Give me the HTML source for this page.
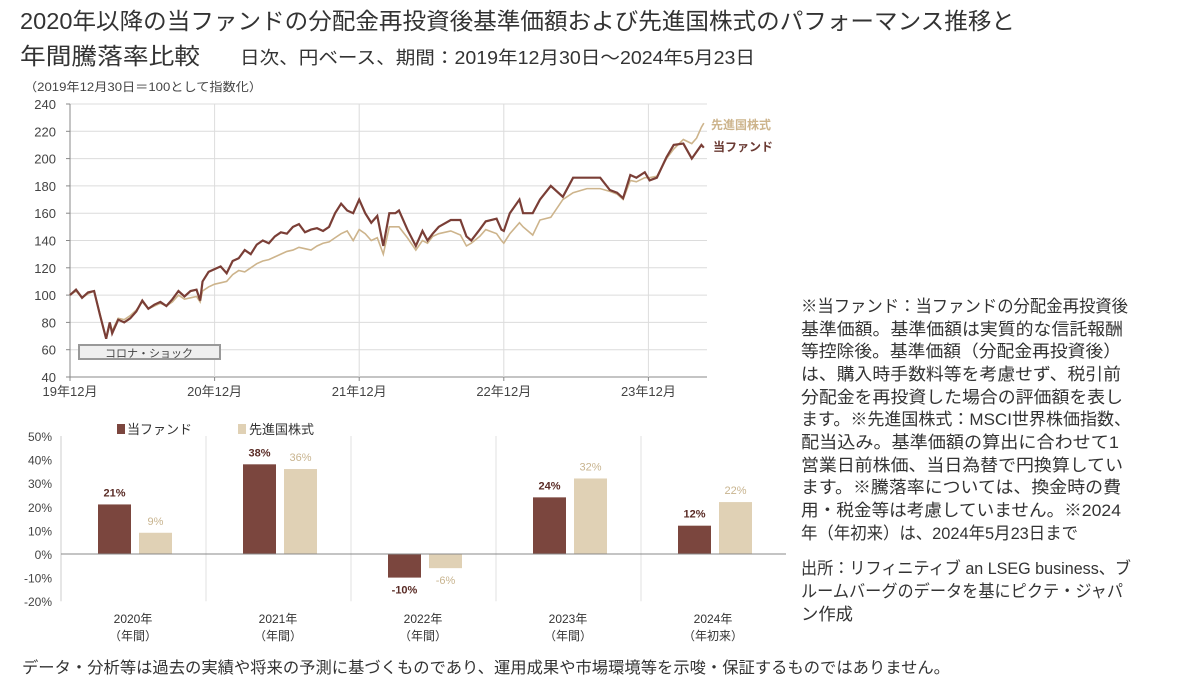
<!DOCTYPE html>
<html lang="ja"><head><meta charset="utf-8">
<style>
html,body{margin:0;padding:0;background:#fff;}
svg{display:block;font-family:"Liberation Sans","Noto Sans CJK JP",sans-serif;}
</style></head>
<body>
<svg id="root" width="1187" height="687" viewBox="0 0 1187 687">
<text x="20" y="29" font-size="23" fill="#333" textLength="995" lengthAdjust="spacingAndGlyphs">2020年以降の当ファンドの分配金再投資後基準価額および先進国株式のパフォーマンス推移と</text>
<text x="20" y="64" font-size="23" fill="#333" textLength="180" lengthAdjust="spacingAndGlyphs">年間騰落率比較</text>
<text x="240" y="64" font-size="18" fill="#333" textLength="515" lengthAdjust="spacingAndGlyphs">日次、円ベース、期間：2019年12月30日～2024年5月23日</text>
<text x="24" y="91" font-size="12" fill="#444" textLength="238" lengthAdjust="spacingAndGlyphs">（2019年12月30日＝100として指数化）</text>
<g id="line-chart"></g>
<g id="bar-chart"></g>
<g id="notes" font-size="17" fill="#333">
<text x="801" y="312" textLength="327" lengthAdjust="spacingAndGlyphs">※当ファンド：当ファンドの分配金再投資後</text>
<text x="801" y="335" textLength="322" lengthAdjust="spacingAndGlyphs">基準価額。基準価額は実質的な信託報酬</text>
<text x="801" y="357" textLength="320" lengthAdjust="spacingAndGlyphs">等控除後。基準価額（分配金再投資後）</text>
<text x="801" y="380" textLength="320" lengthAdjust="spacingAndGlyphs">は、購入時手数料等を考慮せず、税引前</text>
<text x="801" y="403" textLength="322" lengthAdjust="spacingAndGlyphs">分配金を再投資した場合の評価額を表し</text>
<text x="801" y="425" textLength="330" lengthAdjust="spacingAndGlyphs">ます。※先進国株式：MSCI世界株価指数、</text>
<text x="801" y="448" textLength="318" lengthAdjust="spacingAndGlyphs">配当込み。基準価額の算出に合わせて1</text>
<text x="801" y="471" textLength="322" lengthAdjust="spacingAndGlyphs">営業日前株価、当日為替で円換算してい</text>
<text x="801" y="493" textLength="320" lengthAdjust="spacingAndGlyphs">ます。※騰落率については、換金時の費</text>
<text x="801" y="516" textLength="320" lengthAdjust="spacingAndGlyphs">用・税金等は考慮していません。※2024</text>
<text x="801" y="539" textLength="277" lengthAdjust="spacingAndGlyphs">年（年初来）は、2024年5月23日まで</text>
<text x="801" y="574" textLength="330" lengthAdjust="spacingAndGlyphs">出所：リフィニティブ an LSEG business、ブ</text>
<text x="801" y="597" textLength="322" lengthAdjust="spacingAndGlyphs">ルームバーグのデータを基にピクテ・ジャパ</text>
<text x="801" y="620" textLength="52" lengthAdjust="spacingAndGlyphs">ン作成</text>
</g>
<text x="22" y="673" font-size="16" fill="#333" textLength="928" lengthAdjust="spacingAndGlyphs">データ・分析等は過去の実績や将来の予測に基づくものであり、運用成果や市場環境等を示唆・保証するものではありません。</text>
</svg>
<script>
// ---- line chart data (months since Dec 2019) ----
const months = [0,0.5,1,1.5,2,2.5,3,3.3,3.5,4,4.5,5,5.5,6,6.5,7,7.5,8,8.5,9,9.5,10,10.5,10.8,11,11.5,12,12.5,13,13.5,14,14.5,15,15.5,16,16.5,17,17.5,18,18.5,19,19.5,20,20.5,21,21.5,22,22.5,23,23.5,24,24.5,25,25.5,26,26.5,27,27.3,28,28.7,29.25,29.67,30.1,30.6,31.6,32.4,32.9,33.3,34,34.5,35.4,35.8,36,36.5,37.3,37.6,38.4,39,39.9,40.9,41.75,42.9,44,44.8,45.4,45.9,46.5,47,47.7,48.1,48.7,49.5,50.1,50.9,51.6,52,52.4,52.6];
const fundValues = [100,104,98,102,103,85,68,80,72,82,80,83,88,96,90,93,95,92,97,103,99,103,104,96,110,117,119,121,116,125,127,133,130,137,140,138,143,146,145,150,152,146,148,149,147,150,160,167,162,160,170,160,153,158,136,160,160,162,148,136,147,140,145,150,155,155,143,140,148,154,156,148,147,160,170,160,160,170,180,172,186,186,186,177,175,171,188,186,190,184,186,201,210,211,200,205,210,208];
const benchValues = [100,103,98,101,103,86,68,78,74,83,82,85,89,95,90,92,94,92,95,100,97,98,99,95,103,106,108,109,110,115,118,117,120,123,125,126,128,130,132,133,135,134,133,136,138,139,142,145,147,140,148,145,140,142,130,150,150,150,142,133,140,138,143,145,147,144,136,138,143,148,145,140,138,145,153,150,144,155,157,170,175,178,178,176,174,170,184,183,186,186,187,200,207,214,211,215,223,226];
const yTicks = [40,60,80,100,120,140,160,180,200,220,240];
const xTickLabels = ["19年12月","20年12月","21年12月","22年12月","23年12月"];
const xTickMonths = [0,12,24,36,48];

// ---- bar chart data ----
const barCategories = ["2020年","2021年","2022年","2023年","2024年"];
const barSub = ["（年間）","（年間）","（年間）","（年間）","（年初来）"];
const fundReturns = [21,38,-10,24,12];
const benchReturns = [9,36,-6,32,22];
const barTicks = [50,40,30,20,10,0,-10,-20];

const NS = "http://www.w3.org/2000/svg";
function mk(tag, attrs, parent){const e=document.createElementNS(NS,tag);for(const k in attrs)e.setAttribute(k,attrs[k]);parent.appendChild(e);return e;}

// line chart
const lc = document.getElementById('line-chart');
const X0=70, PXM=12.05, YB=377, PYV=273/200;
const lx = m => X0 + m*PXM;
const ly = v => YB - (v-40)*PYV;
yTicks.forEach(t=>{
  const g=mk('line',{x1:X0,x2:707,y1:ly(t),y2:ly(t),stroke:t===40?'#888':'#dcdcdc','stroke-width':1},lc);
  
  
  const tx=mk('text',{x:X0-14,y:ly(t)+5,'font-size':13,fill:'#444','text-anchor':'end'},lc);
  tx.textContent=t;
  
  
  mk('line',{x1:X0-4,x2:X0,y1:ly(t),y2:ly(t),stroke:'#888'},lc);
});
mk('line',{x1:X0,x2:X0,y1:ly(240),y2:ly(40),stroke:'#888'},lc);
xTickMonths.forEach((m,i)=>{
  if(i>0){const g=mk('line',{x1:lx(m),x2:lx(m),y1:ly(240),y2:ly(40),stroke:'#dcdcdc'},lc);
  
  }
  mk('line',{x1:lx(m),x2:lx(m),y1:ly(40),y2:ly(40)+4,stroke:'#888'},lc);
  const tx=mk('text',{x:lx(m),y:396,'font-size':13,fill:'#444','text-anchor':'middle'},lc);
  tx.textContent=xTickLabels[i];
  
  
});
const box=mk('rect',{x:79,y:345,width:141,height:14,fill:'#efefef',stroke:'#999','stroke-width':2},lc);


const bt=mk('text',{x:149,y:357,'font-size':11,fill:'#444','text-anchor':'middle'},lc);
bt.textContent='コロナ・ショック';


const bp=mk('polyline',{points:months.map((m,i)=>lx(m)+','+ly(benchValues[i])).join(' '),fill:'none',stroke:'#cdb48c','stroke-width':1.6},lc);


const fp=mk('polyline',{points:months.map((m,i)=>lx(m)+','+ly(fundValues[i])).join(' '),fill:'none',stroke:'#7a3e36','stroke-width':2.2},lc);


const l1=mk('text',{x:711,y:129,'font-size':12,'font-weight':'bold',fill:'#cdb48c'},lc);
l1.textContent='先進国株式';


const l2=mk('text',{x:713,y:151,'font-size':12,'font-weight':'bold',fill:'#6a3a33'},lc);
l2.textContent='当ファンド';



// bar chart
const bc=document.getElementById('bar-chart');
const BX0=61, GW=145, BZ=554, BPV=23.6/10;
const by = v => BZ - v*BPV;
barTicks.forEach(t=>{
  const tx=mk('text',{x:52,y:by(t)+5,'font-size':12,fill:'#444','text-anchor':'end'},bc);
  tx.textContent=t+'%';
  
  
});
mk('line',{x1:BX0,x2:BX0,y1:by(50),y2:by(-20),stroke:'#ccc'},bc);
for(let i=1;i<5;i++){const d=mk('line',{x1:BX0+GW*i,x2:BX0+GW*i,y1:by(50),y2:by(-20),stroke:'#e2e2e2'},bc);
  
  }
barCategories.forEach((c,i)=>{
  const gx=BX0+GW*i;
  [[fundReturns[i],'#7b463e',gx+37,'#5a2c26',true],[benchReturns[i],'#e0d1b5',gx+78,'#c8b48f',false]].forEach(([v,col,x,lcol,isF])=>{
    const top=Math.min(by(v),BZ), h=Math.abs(by(v)-BZ);
    const r=mk('rect',{x:x,y:top,width:33,height:h,fill:col},bc);
    
    
    const ty = v>=0 ? by(v)-8 : by(v)+16;
    const t=mk('text',{x:x+16.5,y:ty,'font-size':11,'font-weight':isF?'bold':'normal',fill:lcol,'text-anchor':'middle'},bc);
    t.textContent=v+'%';
    
    
  });
  const t1=mk('text',{x:gx+72,y:623,'font-size':12,fill:'#333','text-anchor':'middle'},bc);
  t1.textContent=c;
  
  
  const t2=mk('text',{x:gx+72,y:640,'font-size':12,fill:'#333','text-anchor':'middle'},bc);
  t2.textContent=barSub[i];
  
  
});
mk('line',{x1:BX0,x2:786,y1:BZ,y2:BZ,stroke:'#888'},bc);
const lg1=mk('rect',{x:117,y:424,width:8,height:10,fill:'#7b463e'},bc);


const lt1=mk('text',{x:127,y:434,'font-size':13,fill:'#333'},bc);
lt1.textContent='当ファンド';


const lg2=mk('rect',{x:238,y:424,width:8,height:10,fill:'#e0d1b5'},bc);


const lt2=mk('text',{x:249,y:434,'font-size':13,fill:'#333'},bc);
lt2.textContent='先進国株式';


</script>
</body></html>
